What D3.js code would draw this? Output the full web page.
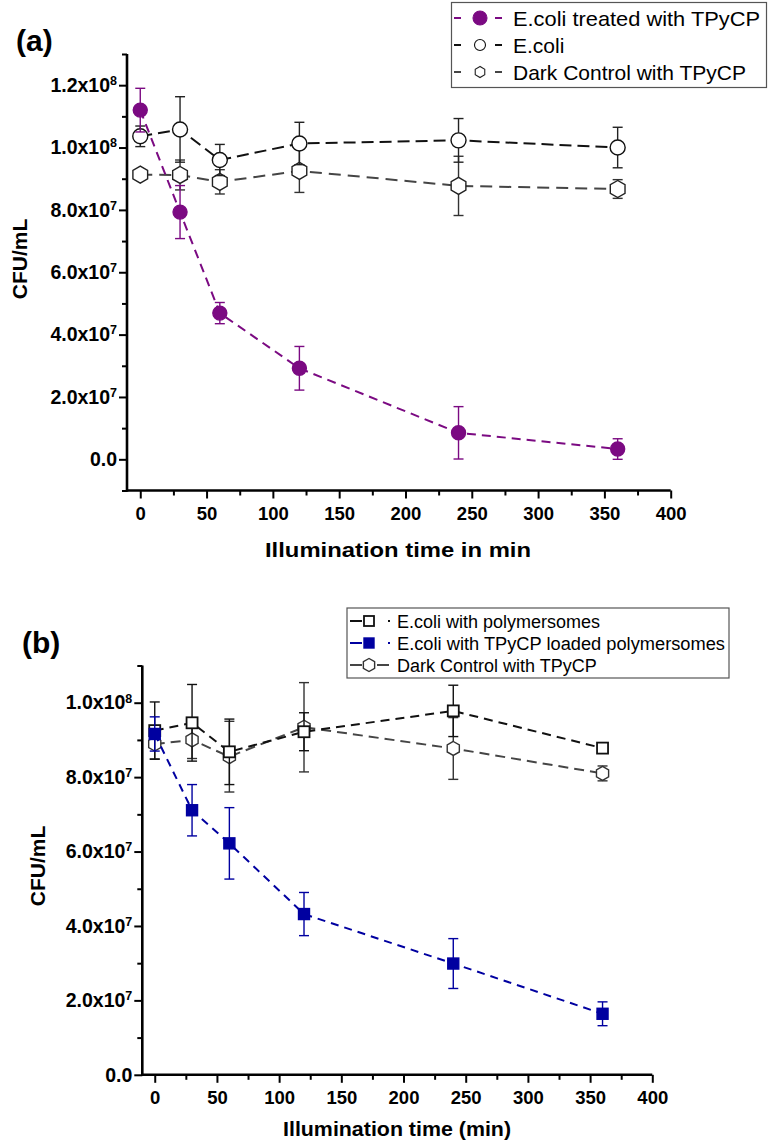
<!DOCTYPE html>
<html>
<head>
<meta charset="utf-8">
<script src="https://cdnjs.cloudflare.com/ajax/libs/d3/7.8.5/d3.min.js"></script>
<style>
  html, body { margin: 0; padding: 0; background: #fff; }
  svg { display: block; }
  text { font-family: "Liberation Sans", Arial, sans-serif; }
</style>
</head>
<body>
<script>
// ---------- Data ----------
const times = [0, 30, 60, 120, 240, 360];

// Panel (a)
const treatedA = [1.12e8, 7.93e7, 4.69e7, 2.92e7, 8.5e6, 3.3e6];
const treatedAErr = [7.0e6, 8.5e6, 3.4e6, 7.0e6, 8.4e6, 3.3e6];
const ecoliA = [1.036e8, 1.058e8, 9.6e7, 1.013e8, 1.023e8, 1.0e8];
const ecoliAErr = [3.3e6, 1.05e7, 5.0e6, 6.8e6, 7.0e6, 6.5e6];
const darkA = [9.13e7, 9.12e7, 8.9e7, 9.25e7, 8.77e7, 8.67e7];
const darkAErr = [1.0e6, 4.8e6, 3.9e6, 6.9e6, 9.5e6, 3.0e6];

// Panel (b)
const polyB = [9.25e7, 9.46e7, 8.68e7, 9.22e7, 9.78e7, 8.78e7];
const polyBErr = [7.7e6, 1.03e7, 8.8e6, 5.1e6, 6.9e6, 1.2e6];
const tpycpB = [9.16e7, 7.11e7, 6.22e7, 4.32e7, 2.99e7, 1.64e7];
const tpycpBErr = [4.6e6, 6.9e6, 9.6e6, 5.8e6, 6.7e6, 3.2e6];
const darkB = [8.89e7, 9.0e7, 8.55e7, 9.34e7, 8.77e7, 8.1e7];
const darkBErr = [4.0e6, 5.0e6, 9.5e6, 1.2e7, 8.3e6, 2.0e6];

const xTicks = [0, 50, 100, 150, 200, 250, 300, 350, 400];
const xMinor = [25, 75, 125, 175, 225, 275, 325, 375];
const yTicksA = [0, 2e7, 4e7, 6e7, 8e7, 1e8, 1.2e8];
const yMinorA = [-1e7, 1e7, 3e7, 5e7, 7e7, 9e7, 1.1e8, 1.3e8];
const yTicksB = [0, 2e7, 4e7, 6e7, 8e7, 1e8];
const yMinorB = [1e7, 3e7, 5e7, 7e7, 9e7, 1.1e8];

const legendA = ["E.coli treated with TPyCP", "E.coli", "Dark Control with TPyCP"];
const legendB = ["E.coli with polymersomes", "E.coli with TPyCP loaded polymersomes", "Dark Control with TPyCP"];

const PURPLE = "#7b0a82", BLUE = "#0000a0", BLACK = "#111", GRAY = "#454545";

// ---------- Drawing ----------
const svg = d3.select("body").append("svg").attr("width", 777).attr("height", 1146);
svg.append("rect").attr("width", 777).attr("height", 1146).attr("fill", "#fff");

function hexPath(r) {
  const pts = d3.range(6).map(k => {
    const a = Math.PI / 2 + k * Math.PI / 3;
    return [r * Math.cos(a), -r * Math.sin(a)];
  });
  return "M" + pts.map(p => p.join(",")).join("L") + "Z";
}

function fmtLabel(sel, d) {
  sel.text(null);
  if (d === 0) { sel.text("0.0"); return; }
  const e = Math.floor(Math.log10(d) + 1e-9);
  const m = d / Math.pow(10, e);
  sel.append("tspan").text(m.toFixed(1) + "x10");
  sel.append("tspan").attr("dy", "-0.55em").attr("font-size", "12.5px").text(e);
}

function drawAxes(g, x, y, yTicks, yMinor, opts) {
  const ax = g.append("g").attr("transform", `translate(0,${y.range()[0]})`)
    .call(d3.axisBottom(x).tickValues(xTicks).tickSize(8).tickPadding(8).tickSizeOuter(0));
  ax.select(".domain").attr("stroke", "#000").attr("stroke-width", 2.6)
    .attr("d", `M${x.range()[0]},0H${x.range()[1]}`);
  ax.selectAll(".tick line").attr("stroke", "#000").attr("stroke-width", 2);
  ax.selectAll(".tick text").attr("font-size", opts.xFont).attr("font-weight", "bold").attr("fill", "#000");
  const axm = g.append("g").attr("transform", `translate(0,${y.range()[0]})`)
    .call(d3.axisBottom(x).tickValues(xMinor).tickSize(5).tickFormat(""));
  axm.select(".domain").remove();
  axm.selectAll(".tick line").attr("stroke", "#000").attr("stroke-width", 2);

  const ay = g.append("g").attr("transform", `translate(${x.range()[0]},0)`)
    .call(d3.axisLeft(y).tickValues(yTicks).tickSize(8).tickPadding(2).tickSizeOuter(0));
  ay.select(".domain").attr("stroke", "#000").attr("stroke-width", 2.6)
    .attr("d", `M0,${y.range()[0] + 1.3}V${y.range()[1]}`);
  ay.selectAll(".tick line").attr("stroke", "#000").attr("stroke-width", 2);
  ay.selectAll(".tick text").attr("font-size", opts.yFont).attr("font-weight", "bold").attr("fill", "#000")
    .each(function (d) { fmtLabel(d3.select(this), d); });
  const aym = g.append("g").attr("transform", `translate(${x.range()[0]},0)`)
    .call(d3.axisLeft(y).tickValues(yMinor).tickSize(5).tickFormat(""));
  aym.select(".domain").remove();
  aym.selectAll(".tick line").attr("stroke", "#000").attr("stroke-width", 2);
}

function drawSeries(g, x, y, vals, errs, s) {
  const pts = times.map((t, i) => ({ t, v: vals[i], e: errs[i] }));
  g.append("path").datum(pts)
    .attr("fill", "none").attr("stroke", s.color).attr("stroke-width", 2)
    .attr("stroke-dasharray", s.dash)
    .attr("d", d3.line().x(d => x(d.t)).y(d => y(d.v)));
  const eb = g.append("g").attr("stroke", s.errColor).attr("stroke-width", 1.4).attr("fill", "none");
  pts.forEach(d => {
    const cx = x(d.t), y1 = y(d.v + d.e), y2 = y(d.v - d.e);
    eb.append("line").attr("x1", cx).attr("x2", cx).attr("y1", y1).attr("y2", y2);
    eb.append("line").attr("x1", cx - s.cap).attr("x2", cx + s.cap).attr("y1", y1).attr("y2", y1);
    eb.append("line").attr("x1", cx - s.cap).attr("x2", cx + s.cap).attr("y1", y2).attr("y2", y2);
  });
  pts.forEach(d => drawMarker(g, x(d.t), y(d.v), s));
}

function drawMarker(g, cx, cy, s) {
  const sw = s.markerStroke || 1.4;
  if (s.shape === "circle") {
    g.append("circle").attr("cx", cx).attr("cy", cy).attr("r", s.size)
      .attr("fill", s.fill).attr("stroke", s.mstroke).attr("stroke-width", sw);
  } else if (s.shape === "square") {
    g.append("rect").attr("x", cx - s.size).attr("y", cy - s.size)
      .attr("width", 2 * s.size).attr("height", 2 * s.size)
      .attr("fill", s.fill).attr("stroke", s.mstroke).attr("stroke-width", sw);
  } else {
    g.append("path").attr("transform", `translate(${cx},${cy})`).attr("d", hexPath(s.size))
      .attr("fill", s.fill).attr("stroke", s.mstroke).attr("stroke-width", sw);
  }
}

// ---------- Panel (a) ----------
const xA = d3.scaleLinear().domain([-10, 400]).range([127, 670.7]);
const yA = d3.scaleLinear().domain([-1e7, 1.3e8]).range([490.5, 54]);
const gA = svg.append("g");
drawAxes(gA, xA, yA, yTicksA, yMinorA, { xFont: "18.5px", yFont: "19.5px" });

const sA = [
  { vals: darkA, errs: darkAErr, color: GRAY, errColor: "#333", dash: "12,7", shape: "hex", size: 8.5, fill: "#fff", mstroke: "#222", cap: 5 },
  { vals: ecoliA, errs: ecoliAErr, color: BLACK, errColor: "#222", dash: "12,6", shape: "circle", size: 7.5, fill: "#fff", mstroke: "#111", cap: 5 },
  { vals: treatedA, errs: treatedAErr, color: PURPLE, errColor: PURPLE, dash: "9,6", shape: "circle", size: 7, fill: PURPLE, mstroke: PURPLE, cap: 5 }
];
sA.forEach(s => drawSeries(gA, xA, yA, s.vals, s.errs, s));

svg.append("text").attr("x", 16).attr("y", 51).attr("font-family", "'Liberation Serif', 'Times New Roman', serif")
  .attr("font-weight", "bold").attr("font-size", "30px").text("(a)");
svg.append("text").attr("transform", "translate(27,259) rotate(-90)").attr("text-anchor", "middle")
  .attr("font-weight", "bold").attr("font-size", "21px").text("CFU/mL");
svg.append("text").attr("x", 398).attr("y", 557).attr("text-anchor", "middle")
  .attr("font-weight", "bold").attr("font-size", "21px").attr("textLength", 266).attr("lengthAdjust", "spacingAndGlyphs")
  .text("Illumination time in min");

// legend (a)
const lgA = svg.append("g");
lgA.append("rect").attr("x", 451.5).attr("y", 2.5).attr("width", 315).attr("height", 85)
  .attr("fill", "#fff").attr("stroke", "#555").attr("stroke-width", 1.2);
const legStyleA = [sA[2], sA[1], sA[0]];
legendA.forEach((name, i) => {
  const cy = 18 + i * 27;
  const s = legStyleA[i];
  lgA.append("line").attr("x1", 454).attr("x2", 461).attr("y1", cy).attr("y2", cy).attr("stroke", s.color).attr("stroke-width", 2);
  lgA.append("line").attr("x1", 495).attr("x2", 502).attr("y1", cy).attr("y2", cy).attr("stroke", s.color).attr("stroke-width", 2);
  drawMarker(lgA, 480, cy, Object.assign({}, s, { size: i === 0 ? 7 : 5.5, markerStroke: 1.1 }));
  lgA.append("text").attr("x", 513).attr("y", cy + 7.5).attr("font-size", "21px").attr("textLength", i === 0 ? 247 : null)
    .attr("lengthAdjust", "spacingAndGlyphs").text(name);
});

// ---------- Panel (b) ----------
const xB = d3.scaleLinear().domain([-10, 400]).range([142.3, 652.3]);
const yB = d3.scaleLinear().domain([0, 1.1e8]).range([1074.8, 665.5]);
const gB = svg.append("g");
drawAxes(gB, xB, yB, yTicksB, yMinorB, { xFont: "18.5px", yFont: "19.5px" });

const sB = [
  { vals: darkB, errs: darkBErr, color: GRAY, errColor: "#333", dash: "10,6", shape: "hex", size: 7, fill: "#fff", mstroke: "#333", cap: 5 },
  { vals: polyB, errs: polyBErr, color: BLACK, errColor: "#111", dash: "9,6", shape: "square", size: 5.5, fill: "#fff", mstroke: "#111", cap: 5, markerStroke: 1.8 },
  { vals: tpycpB, errs: tpycpBErr, color: BLUE, errColor: BLUE, dash: "8,6", shape: "square", size: 5.5, fill: BLUE, mstroke: BLUE, cap: 5 }
];
sB.forEach(s => drawSeries(gB, xB, yB, s.vals, s.errs, s));

svg.append("text").attr("x", 22).attr("y", 653).attr("font-family", "'Liberation Serif', 'Times New Roman', serif")
  .attr("font-weight", "bold").attr("font-size", "30px").text("(b)");
svg.append("text").attr("transform", "translate(45,866) rotate(-90)").attr("text-anchor", "middle")
  .attr("font-weight", "bold").attr("font-size", "21px").text("CFU/mL");
svg.append("text").attr("x", 397).attr("y", 1136).attr("text-anchor", "middle")
  .attr("font-weight", "bold").attr("font-size", "21px").attr("textLength", 228).attr("lengthAdjust", "spacingAndGlyphs")
  .text("Illumination time (min)");

// legend (b)
const lgB = svg.append("g");
lgB.append("rect").attr("x", 347).attr("y", 608).attr("width", 382).attr("height", 70)
  .attr("fill", "#fff").attr("stroke", "#555").attr("stroke-width", 1.2);
const legStyleB = [sB[1], sB[2], sB[0]];
legendB.forEach((name, i) => {
  const cy = 621 + i * 22;
  const s = legStyleB[i];
  lgB.append("line").attr("x1", 350).attr("x2", 362).attr("y1", cy).attr("y2", cy).attr("stroke", s.color).attr("stroke-width", 2);
  if (i < 2) {
    lgB.append("line").attr("x1", 388).attr("x2", 390).attr("y1", cy).attr("y2", cy).attr("stroke", s.color).attr("stroke-width", 2);
  } else {
    lgB.append("line").attr("x1", 377).attr("x2", 389).attr("y1", cy).attr("y2", cy).attr("stroke", s.color).attr("stroke-width", 2);
  }
  drawMarker(lgB, 369, cy, Object.assign({}, s, { size: i === 2 ? 6.5 : 5 }));
  lgB.append("text").attr("x", 397).attr("y", cy + 6.5).attr("font-size", "18px")
    .attr("textLength", i === 1 ? 328 : null).attr("lengthAdjust", "spacingAndGlyphs").text(name);
});
</script>
</body>
</html>
